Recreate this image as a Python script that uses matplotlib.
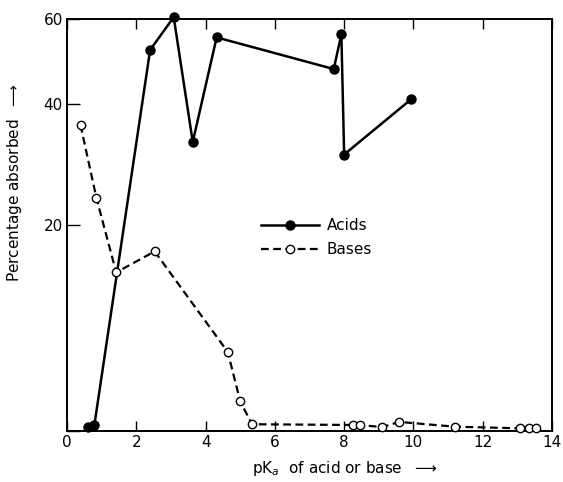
import matplotlib
matplotlib.use("Agg")
import matplotlib.pyplot as plt
import numpy as np

# values
acid_pka = [0.60, 0.79, 2.40, 3.08, 3.63, 4.32, 7.70, 7.92, 8.00, 9.94]
acid_abs = [0.3, 0.4, 52.1, 60.5, 32.9, 55.2, 47.6, 56.0, 30.7, 41.1]

base_pka = [0.39, 0.85, 1.42, 2.53, 4.64, 5.00, 5.34, 8.25, 8.46, 9.10,
            9.59, 11.21, 13.09, 13.33, 13.55]
base_abs = [36.0, 23.8, 14.1, 16.6, 6.1, 2.1, 0.46, 0.41, 0.40, 0.27,
            0.62, 0.29, 0.18, 0.18, 0.18]

xticks = [0, 2, 4, 6, 8, 10, 12, 14]
xticklabels = ["0", "2", "4", "6", "8", "10", "12", "14"]
yticks = [0, 20, 40, 60]
yticklabels = ["", "20", "40", "60"]


def fwd(v):
    return np.log(np.asarray(v) + 20.0)


def inv(u):
    return np.exp(u) - 20.0


plt.rcParams['font.family'] = ['DejaVu Sans']

W, H = 563, 482
L, R, T, B = 67, 552, 19, 431
fig = plt.figure(figsize=(W / 100, H / 100), dpi=100)
ax = fig.add_axes([L / W, 1 - B / H, (R - L) / W, (B - T) / H])

ax.set_yscale('function', functions=(fwd, inv))
ax.set_xlim(0, 14)
ax.set_ylim(0, 60)

ax.plot(acid_pka, acid_abs, color='black', lw=1.8, marker='o', ms=6.5,
        mfc='black', mec='black', label='Acids', clip_on=False, zorder=3)
ax.plot(base_pka, base_abs, color='black', lw=1.6, dashes=(3.5, 2),
        marker='o', ms=6, mfc='white', mec='black', mew=1.0,
        label='Bases', clip_on=False, zorder=4)

for s in ax.spines.values():
    s.set_linewidth(1.4)

ax.set_xticks(xticks)
ax.set_xticklabels(xticklabels)
ax.set_yticks(yticks)
ax.set_yticklabels(yticklabels)
ax.minorticks_off()
ax.tick_params(axis='x', direction='in', length=7, width=1.0, top=True,
               labelsize=11, pad=3)
ax.tick_params(axis='y', direction='in', length=9, width=1.0,
               labelsize=11, pad=3)

ax.set_xlabel(r"pK$_a$  of acid or base  $\longrightarrow$", fontsize=11)
ax.xaxis.set_label_coords((345 - L) / (R - L), -0.068)
ax.set_ylabel(r"Percentage absorbed  $\longrightarrow$", fontsize=11)
ax.yaxis.set_label_coords(-0.088 * 488 / (R - L), (B - 183) / (B - T))

ax.legend(loc='upper left', bbox_to_anchor=((261 - L) / (R - L), (B - 218) / (B - T)),
          frameon=False, fontsize=11, handlelength=3.8, handletextpad=0.5,
          labelspacing=0.6, borderpad=0, borderaxespad=0)

fig.savefig("out.png", dpi=100)
